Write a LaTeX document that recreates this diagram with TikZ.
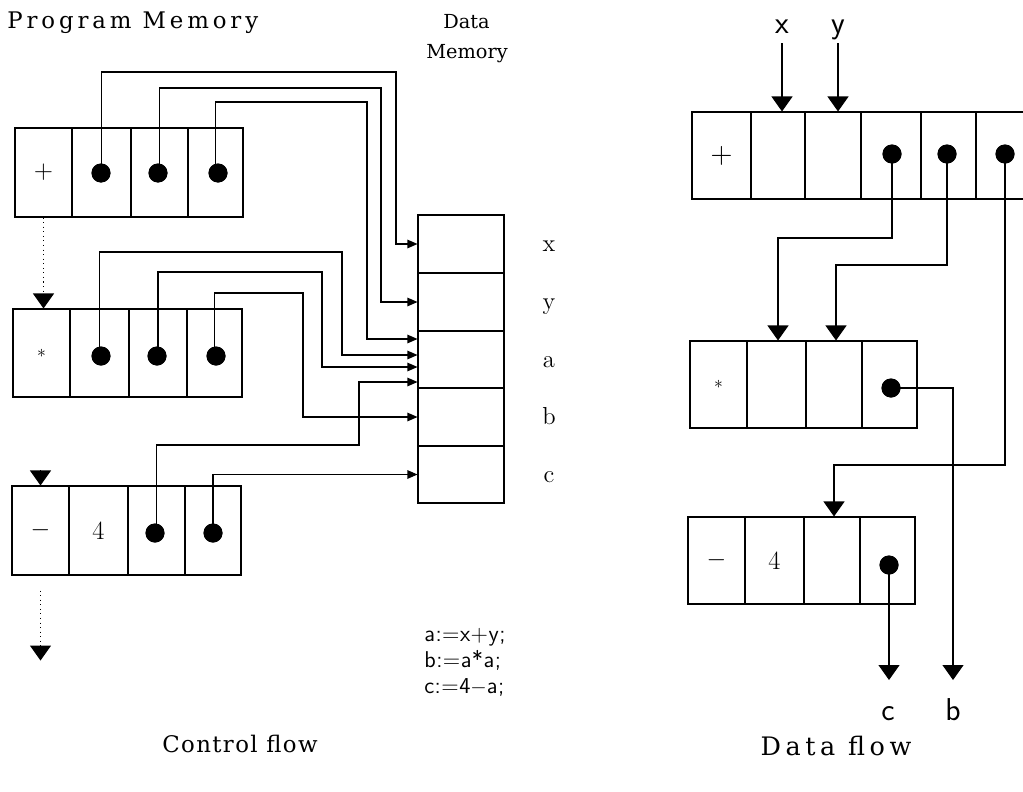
\documentclass[tikz,border=0pt]{standalone}
\usepackage{fontspec}
\newfontfamily\ttlfont{DejaVu Serif}
\newfontfamily\lmsf{lmsans12-regular.otf}
\newfontfamily\lmsfbig{lmsans17-regular.otf}
\usetikzlibrary{arrows.meta,calc}
\tikzset{
  cellbox/.style={draw, line width=0.6pt, inner sep=0pt},
  dot/.style={circle, fill=black, inner sep=0pt, minimum size=0.38cm},
  link/.style={line width=0.6pt, -{Triangle[length=0.2cm,width=0.17cm]}},
  bigarrow/.style={line width=0.6pt, -{Triangle[length=0.3cm,width=0.42cm]}},
  flowarrow/.style={line width=0.6pt, dotted, -{Triangle[length=0.3cm,width=0.42cm]}},
  title/.style={inner sep=0pt, font=\ttlfont\fontsize{13}{16}\selectfont\addfontfeatures{LetterSpace=17}},
  ctitle/.style={inner sep=0pt, font=\ttlfont\fontsize{13}{16}\selectfont\addfontfeatures{LetterSpace=6}},
  dtitle/.style={inner sep=0pt, font=\ttlfont\fontsize{14.5}{17}\selectfont\addfontfeatures{LetterSpace=18}},
  dmtitle/.style={inner sep=0pt, font=\ttlfont\fontsize{11}{14}\selectfont},
  memlab/.style={inner sep=0pt, anchor=base, font=\fontsize{14}{16}\selectfont},
  code/.style={inner sep=0pt, anchor=base west, font=\lmsf\fontsize{13}{15}\selectfont\addfontfeatures{LetterSpace=2}},
  sflab/.style={inner sep=3pt, anchor=base, text depth=0.25em, font=\lmsfbig\fontsize{18}{20}\selectfont},
}
\newcommand\pcell[6]{\node[cellbox, minimum width={(#4-#2)*0.02cm}, minimum height={(#5-#3)*0.02cm}] (#1) at ({(#2+#4)/2},{(#3+#5)/2}) {#6};}
\begin{document}
\begin{tikzpicture}[x=0.02cm, y=-0.02cm]
\path[use as bounding box] (0,0) rectangle (1023,791);
\clip (0,0) rectangle (1023,791);

% ---------------- Titles ----------------
\node[title, anchor=base west] (tpm) at (7,29) {Program Memory};
\node[dmtitle, anchor=base west] (tdm1) at (443,29) {Data};
\node[dmtitle, anchor=base west] (tdm2) at (426,58) {Memory};
\node[ctitle, anchor=base] (tcf) at (240,752) {Control flow};
\node[dtitle, anchor=base] (tdf) at (836,755) {Data flow};

% ---------------- Program memory ----------------
\pcell{pa0}{15}{128}{72}{217}{\fontsize{14}{14}\selectfont$+$}
\pcell{pa1}{72}{128}{131}{217}{}
\pcell{pa2}{131}{128}{188}{217}{}
\pcell{pa3}{188}{128}{243}{217}{}

\pcell{pb0}{13}{309}{70}{397}{$\ast$}
\pcell{pb1}{70}{309}{129}{397}{}
\pcell{pb2}{129}{309}{187}{397}{}
\pcell{pb3}{187}{309}{242}{397}{}

\pcell{pc0}{12}{486}{69}{575}{\fontsize{14}{14}\selectfont$-$}
\pcell{pc1}{69}{486}{128}{575}{\fontsize{15}{15}\selectfont 4}
\pcell{pc2}{128}{486}{185}{575}{}
\pcell{pc3}{185}{486}{241}{575}{}

% ---------------- Data memory ----------------
\pcell{mx}{418}{215}{504}{273}{}
\pcell{my}{418}{273}{504}{331}{}
\pcell{ma}{418}{331}{504}{388}{}
\pcell{mb}{418}{388}{504}{446}{}
\pcell{mc}{418}{446}{504}{503}{}
\node[memlab] (lx) at (549,251) {x};
\node[memlab] (ly) at (549,309) {y};
\node[memlab] (la) at (549,367) {a};
\node[memlab] (lb) at (549,424) {b};
\node[memlab] (lc) at (549,482) {c};

% connectors program -> data memory
\draw[link] (pa1.center) |- (396,72) |- (mx.west);
\draw[link] (pa2.center) |- (381,88) |- (my.west);
\draw[link] (pa3.center) |- (367,102) |- (ma.west |- 0,339);
\draw[link] (pb1.center) |- (342,252) |- (ma.west |- 0,355);
\draw[link] (pb2.center) |- (322,272) |- (ma.west |- 0,367);
\draw[link] (pb3.center) |- (303,293) |- (mb.west);
\draw[link] (pc2.center) |- (359,445) |- (ma.west |- 0,382);
\draw[link] (pc3.center) |- (mc.west);

\node[dot] (pad1) at (101,173) {};
\node[dot] (pad2) at (158,173) {};
\node[dot] (pad3) at (218,173) {};
\node[dot] (pbd1) at (101,356) {};
\node[dot] (pbd2) at (157,356) {};
\node[dot] (pbd3) at (216,356) {};
\node[dot] (pcd2) at (155,533) {};
\node[dot] (pcd3) at (213,533) {};

% control flow arrows
\draw[flowarrow] (pa0.south) -- (pa0.south |- pb0.north);
\draw[bigarrow] ($(pc0.north)+(0,0.3cm)$) -- (pc0.north);
\coordinate (cfend) at ($(pc0.south)+(0,-1.7cm)$);
\draw[flowarrow] ($(pc0.south)+(0,-0.3cm)$) -- (cfend);

% code
\node[code] (c1) at (424,641) {a:=x+y;};
\node[code] (c2) at (424,667) {b:=a*a;};
\node[code] (c3) at (424,693) {c:=4$-$a;};

% ---------------- Data flow ----------------
\pcell{ra0}{692}{112}{751}{199}{\fontsize{18}{18}\selectfont$+$}
\pcell{ra1}{751}{112}{805}{199}{}
\pcell{ra2}{805}{112}{861}{199}{}
\pcell{ra3}{861}{112}{921}{199}{}
\pcell{ra4}{921}{112}{976}{199}{}
\pcell{ra5}{976}{112}{1040}{199}{}

\pcell{rb0}{690}{341}{747}{428}{$\ast$}
\pcell{rb1}{747}{341}{806}{428}{}
\pcell{rb2}{806}{341}{862}{428}{}
\pcell{rb3}{862}{341}{917}{428}{}

\pcell{rc0}{688}{517}{745}{604}{\fontsize{14}{14}\selectfont$-$}
\pcell{rc1}{745}{517}{804}{604}{\fontsize{15}{15}\selectfont 4}
\pcell{rc2}{804}{517}{860}{604}{}
\pcell{rc3}{860}{517}{915}{604}{}

\node[sflab] (inx) at (782,33) {x};
\node[sflab] (iny) at (838,33) {y};
\draw[bigarrow] (inx.south) -- (inx.south |- ra1.north);
\draw[bigarrow] (iny.south) -- (iny.south |- ra2.north);

\node[dot] (rad3) at (892,154) {};
\node[dot] (rad4) at (947,154) {};
\node[dot] (rad5) at (1005,154) {};
\node[dot] (rbd3) at (891,388) {};
\node[dot] (rcd3) at (889,565) {};

\draw[bigarrow] (rad3.center) |- (778,238) -- (rb1.north -| 778,0);
\draw[bigarrow] (rad4.center) |- (836,265) -- (rb2.north -| 836,0);
\draw[bigarrow] (rad5.center) |- (834,465) -- (rc2.north -| 834,0);

\coordinate (bend) at (953,680);
\coordinate (cend) at (889,680);
\draw[bigarrow] (rbd3.center) -| (bend);
\draw[bigarrow] (rcd3.center) -- (cend);
\node[sflab] (outc) at (888,720) {c};
\node[sflab] (outb) at (953,720) {b};

% dots on top of their connectors
\foreach \d in {pad1,pad2,pad3,pbd1,pbd2,pbd3,pcd2,pcd3,rad3,rad4,rad5,rbd3,rcd3}{\fill (\d) circle (0.19cm);}
\end{tikzpicture}
\end{document}
